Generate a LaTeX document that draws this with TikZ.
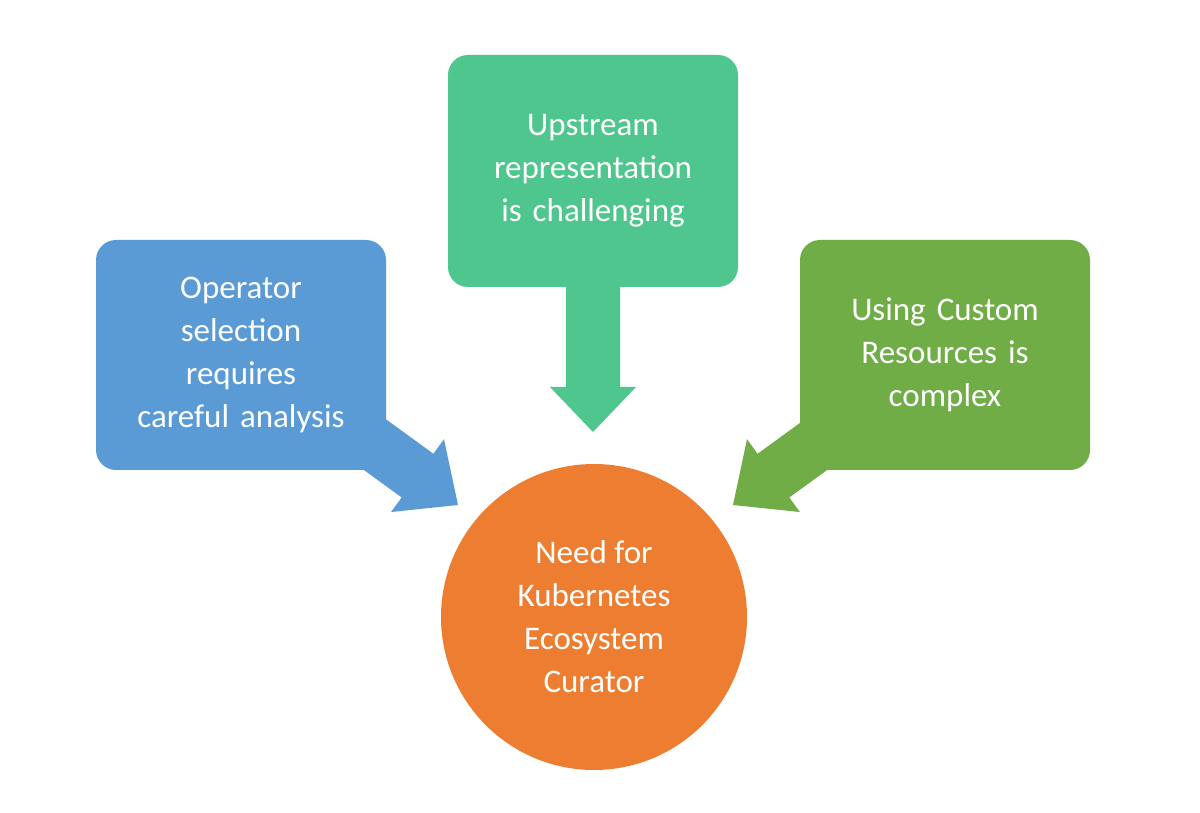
\documentclass[tikz,border=0pt]{standalone}
\usepackage{fontspec}
\setmainfont{Carlito}
\definecolor{cblue}{HTML}{5B9BD5}
\definecolor{cteal}{HTML}{4FC68D}
\definecolor{cgreen}{HTML}{70AD47}
\definecolor{corange}{HTML}{ED7D31}
\begin{document}
\begin{tikzpicture}[x=1pt,y=1pt,
  boxst/.style={rounded corners=20pt,minimum width=290pt,minimum height=230pt,text width=280pt,align=center,text=white,font=\fontsize{33}{43}\selectfont,inner sep=0pt},
  arr/.style={fill=#1,draw=none}]
\useasboundingbox[fill=white] (0,0) rectangle (1200,812);
% arrows
\begin{scope}[shift={(458,307)},rotate=-36]
\fill[cblue] (0,0)--(-50,45)--(-50,27)--(-200,27)--(-200,-27)--(-50,-27)--(-50,-45)--cycle;
\end{scope}
\begin{scope}[shift={(733,307)},rotate=216]
\fill[cgreen] (0,0)--(-50,45)--(-50,27)--(-200,27)--(-200,-27)--(-50,-27)--(-50,-45)--cycle;
\end{scope}
\begin{scope}[shift={(593,380)},rotate=-90]
\fill[cteal] (0,0)--(-45,43)--(-45,27)--(-160,27)--(-160,-27)--(-45,-27)--(-45,-43)--cycle;
\end{scope}
\node[boxst,fill=cblue] (op) at (241,457) {Operator\\selection\\requires\\careful analysis};
\node[boxst,fill=cteal,minimum height=232pt] (up) at (593,641) {Upstream\\representation\\is challenging};
\node[boxst,fill=cgreen] (cr) at (945,457) {Using Custom\\Resources is\\complex};
\node[circle,fill=corange,minimum size=306pt,inner sep=0pt,align=center,text=white,font=\fontsize{33}{43}\selectfont] (need) at (594,195) {Need for\\Kubernetes\\Ecosystem\\Curator};
\end{tikzpicture}
\end{document}
